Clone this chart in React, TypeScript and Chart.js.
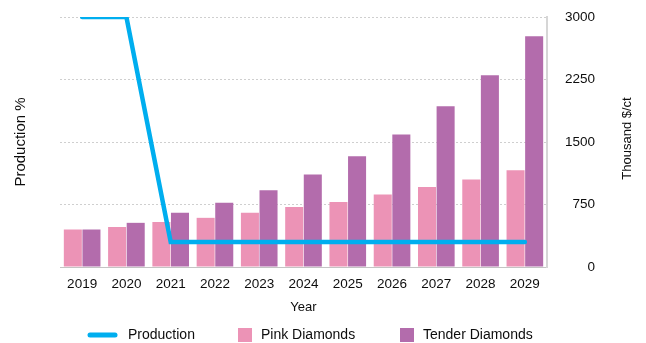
import React, { useEffect, useRef } from "react";
import { Chart, registerables } from "chart.js";

Chart.register(...registerables);

const years = ["2019", "2020", "2021", "2022", "2023", "2024", "2025", "2026", "2027", "2028", "2029"];
const productionPct = [100, 100, 10, 10, 10, 10, 10, 10, 10, 10, 10];
const pinkDiamonds = [450, 480, 540, 590, 650, 720, 780, 870, 960, 1050, 1160];
const tenderDiamonds = [450, 530, 650, 770, 920, 1110, 1330, 1590, 1930, 2300, 2770];
const priceTicks = [0, 750, 1500, 2250, 3000];

const CYAN = "#00AEEF";
const PINK = "#EC93B6";
const PURPLE = "#B36CAC";
const TEXT = "#0d0d0d";
const FONT_FAMILY = '"Liberation Sans", Arial, Helvetica, sans-serif';
const tickFont = { family: FONT_FAMILY, size: 13.5 };
const yearFont = { family: FONT_FAMILY, size: 13 };
const leftTitleFont = { family: FONT_FAMILY, size: 15 };

const customPlugin = {
  id: "customDecor",
  afterDraw(chart: any) {
    const ctx = chart.ctx as CanvasRenderingContext2D;
    ctx.save();
    ctx.font = `13px ${FONT_FAMILY}`;
    ctx.fillStyle = TEXT;
    ctx.textAlign = "center";
    ctx.textBaseline = "middle";
    ctx.translate(627.5, 138.5);
    ctx.rotate(-Math.PI / 2);
    ctx.fillText("Thousand $/ct", 0, 0);
    ctx.restore();

    // legend
    const ds = chart.data.datasets;
    const y = 335;
    ctx.save();
    ctx.font = `14px ${FONT_FAMILY}`;
    ctx.fillStyle = TEXT;
    ctx.textAlign = "left";
    ctx.textBaseline = "middle";
    ctx.strokeStyle = ds[0].borderColor;
    ctx.lineWidth = 5;
    ctx.lineCap = "round";
    ctx.beginPath();
    ctx.moveTo(90, y);
    ctx.lineTo(115, y);
    ctx.stroke();
    ctx.fillText(ds[0].label, 128, y);
    ctx.fillStyle = ds[1].backgroundColor;
    ctx.fillRect(238, y - 7, 14, 14);
    ctx.fillStyle = TEXT;
    ctx.fillText(ds[1].label, 261, y);
    ctx.fillStyle = ds[2].backgroundColor;
    ctx.fillRect(400, y - 7, 14, 14);
    ctx.fillStyle = TEXT;
    ctx.fillText(ds[2].label, 423, y);
    ctx.restore();
  },
};

export default function App() {
  const ref = useRef<HTMLCanvasElement | null>(null);

  useEffect(() => {
    document.body.style.margin = "0";
    if (!ref.current) return;
    const chart = new Chart(ref.current, {
      type: "bar",
      data: {
        labels: years,
        datasets: [
          {
            type: "line",
            label: "Production",
            data: productionPct,
            yAxisID: "yPct",
            borderColor: CYAN,
            backgroundColor: CYAN,
            borderWidth: 4.5,
            borderCapStyle: "round",
            borderJoinStyle: "miter",
            pointRadius: 0,
            tension: 0,
            order: 0,
          } as any,
          {
            type: "bar",
            label: "Pink Diamonds",
            data: pinkDiamonds,
            yAxisID: "yPrice",
            backgroundColor: PINK,
            categoryPercentage: 0.84,
            barPercentage: 0.97,
            order: 1,
          },
          {
            type: "bar",
            label: "Tender Diamonds",
            data: tenderDiamonds,
            yAxisID: "yPrice",
            backgroundColor: PURPLE,
            categoryPercentage: 0.84,
            barPercentage: 0.97,
            order: 2,
          },
        ],
      },
      options: {
        responsive: false,
        animation: false,
        devicePixelRatio: 1,
        layout: { padding: { top: 17, bottom: 28, left: 0, right: 51 } },
        plugins: {
          legend: { display: false },
          tooltip: { enabled: false },
        },
        scales: {
          x: {
            type: "category",
            offset: true,
            grid: { display: false, drawTicks: false },
            border: { display: true, color: "#c4c4c4", width: 1 },
            ticks: { color: TEXT, font: tickFont, padding: 9 },
            title: { display: true, text: "Year", color: TEXT, font: yearFont, padding: { top: 8, bottom: 0 } },
            afterFit(s: any) {
              s.height = 48;
            },
          },
          yPct: {
            position: "left",
            min: 0,
            max: 100,
            ticks: { display: false },
            grid: { display: false, drawTicks: false },
            border: { display: false },
            title: {
              display: true,
              text: "Production %",
              color: TEXT,
              font: leftTitleFont,
              padding: { top: 12, bottom: 0 },
            },
            afterFit(s: any) {
              s.width = 60;
            },
          },
          yPrice: {
            position: "right",
            min: 0,
            max: 3000,
            afterBuildTicks(s: any) {
              s.ticks = priceTicks.map((v) => ({ value: v }));
            },
            ticks: {
              color: TEXT,
              font: tickFont,
              padding: 0,
              crossAlign: "far",
              callback: (v: any) => String(v),
            },
            grid: { color: "#cfcfcf", lineWidth: 1, drawTicks: false },
            border: { display: true, color: "#d6d6d6", width: 2, dash: [2, 2] },
            afterFit(s: any) {
              s.width = 48;
            },
          },
        },
      } as any,
      plugins: [customPlugin],
    });
    return () => chart.destroy();
  }, []);

  return (
    <div style={{ width: 646, height: 343 }}>
      <canvas ref={ref} width={646} height={343} style={{ display: "block" }} />
    </div>
  );
}
